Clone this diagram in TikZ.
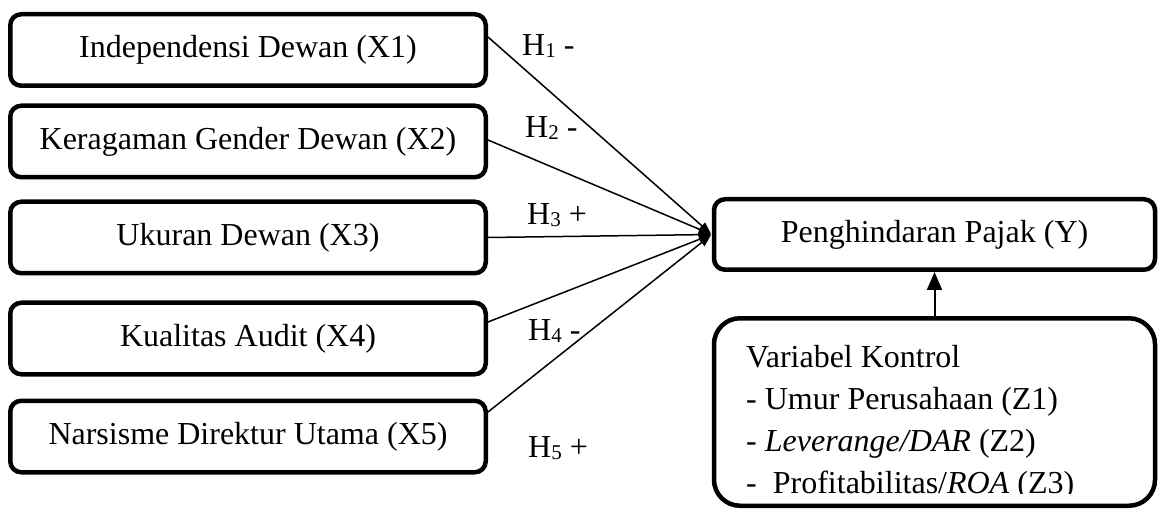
\documentclass[tikz,border=0pt]{standalone}
\usepackage{fontspec}
\setmainfont{Liberation Serif}
\usetikzlibrary{arrows.meta,calc}
\newcommand\hsub[1]{\raisebox{-2pt}{\fontsize{21}{21}\selectfont #1}}
\begin{document}
\begin{tikzpicture}[x=1pt,y=-1pt,
  every node/.style={font=\fontsize{32}{41.5}\selectfont},
  varbox/.style={draw,line width=4.5pt,rounded corners=11pt,minimum width=475.5pt,minimum height=71.5pt,inner sep=0pt},
  ybox/.style={draw,line width=4.5pt,rounded corners=11pt,minimum width=441pt,minimum height=70.5pt,inner sep=0pt},
  ctrlbox/.style={draw,line width=4.5pt,rounded corners=26pt,minimum width=441pt,minimum height=187.5pt,inner sep=0pt},
  link/.style={line width=1.5pt,-{Triangle[length=12pt,width=9pt]},shorten >=1pt},
  uplink/.style={line width=2pt,-{Triangle[length=18pt,width=15pt]}},
  hlab/.style={anchor=base west,inner sep=0pt},
  ctext/.style={anchor=base west,inner sep=0pt},
]
\useasboundingbox (0,0) rectangle (1158,510);

\node[varbox] (x1) at (248,50) {Independensi Dewan (X1)};
\node[varbox] (x2) at (248,141.5) {Keragaman Gender Dewan (X2)};
\node[varbox] (x3) at (248,237.5) {Ukuran Dewan (X3)};
\node[varbox] (x4) at (248,338.5) {Kualitas Audit (X4)};
\node[varbox] (x5) at (248,436.5) {Narsisme Direktur Utama (X5)};

\node[ybox] (y) at (934.5,234.5) {Penghindaran Pajak (Y)};
\node[ctrlbox] (ctrl) at (934.5,412) {};

\node[ctext] (c1) at (746,367) {Variabel Kontrol};
\node[ctext] (c2) at (746,409) {- Umur Perusahaan (Z1)};
\node[ctext] (c3) at (746,451) {- \textit{Leverange/DAR} (Z2)};
\begin{scope}
  \clip (700,300) rectangle (1158,493);
  \node[ctext] (c4) at (746,493) {-\hspace{16pt}Profitabilitas/\textit{ROA} (Z3)};
\end{scope}

\draw[link] ($(x1.east)+(0,-13)$) -- (y.west);
\draw[link] ($(x2.east)+(0,-1.5)$) -- (y.west);
\draw[link] (x3.east) -- (y.west);
\draw[link] ($(x4.east)+(0,-16.5)$) -- (y.west);
\draw[link] ($(x5.east)+(0,-24.5)$) -- (y.west);
\draw[uplink] (ctrl.north) -- (y.south);

\node[hlab] (h1) at (522,56) {H\hsub{1} -};
\node[hlab] (h2) at (525,138) {H\hsub{2} -};
\node[hlab] (h3) at (527,225) {H\hsub{3} +};
\node[hlab] (h4) at (528,340) {H\hsub{4} -};
\node[hlab] (h5) at (528,457) {H\hsub{5} +};
\end{tikzpicture}
\end{document}
